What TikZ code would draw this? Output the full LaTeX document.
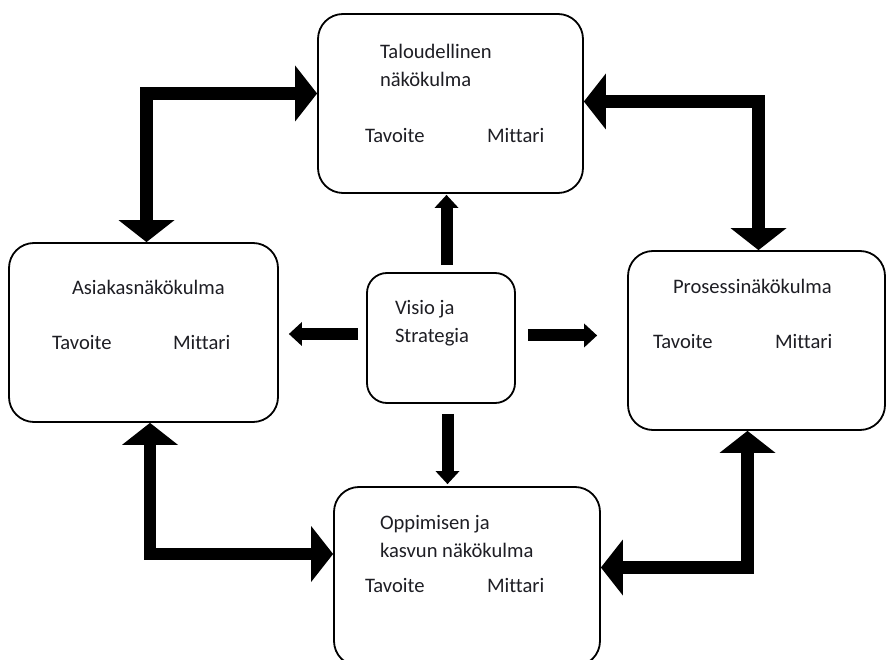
\documentclass[tikz,border=0pt]{standalone}
\usepackage{fontspec}
\setmainfont{Carlito}[Ligatures=NoCommon]
\usetikzlibrary{arrows.meta}
\definecolor{inkgray}{RGB}{30,30,36}
\tikzset{
  box/.style={draw=black, line width=1.8pt, rounded corners=25pt, fill=white, inner sep=0pt},
  smallbox/.style={box, rounded corners=20pt},
  lbl/.style={anchor=base west, inner sep=0pt, outer sep=0pt, text=inkgray,
    font=\fontsize{20.6pt}{28pt}\selectfont},
  bigarr/.style={line width=12.5pt, line cap=butt, line join=miter,
    {Triangle[length=22pt,width=56pt,line width=0pt]}-{Triangle[length=22pt,width=56pt,line width=0pt]}},
  smallarr/.style={line width=12pt, line cap=butt,
    -{Triangle[length=13pt,width=24pt,line width=0pt]}}
}
\begin{document}
\begin{tikzpicture}[x=1pt,y=-1pt]
\useasboundingbox (0,0) rectangle (887,660);

% perspective boxes
\node[box, minimum width=265pt, minimum height=179pt] (tal) at (450.5,103.5) {};
\node[box, minimum width=269pt, minimum height=179pt] (asi) at (143.5,332.5) {};
\node[box, minimum width=257pt, minimum height=179pt] (pro) at (756.5,340.5) {};
\node[box, minimum width=266pt, minimum height=179pt] (opp) at (467,576.5) {};
\node[smallbox, minimum width=148pt, minimum height=130pt] (vis) at (441,338) {};

% texts
\node[lbl] (tal1) at (380,59) {Taloudellinen};
\node[lbl] (tal2) at (380,87) {näkökulma};
\node[lbl] (talT) at (365,143) {Tavoite};
\node[lbl] (talM) at (487,143) {Mittari};

\node[lbl] (asi1) at (72,295) {Asiakasnäkökulma};
\node[lbl] (asiT) at (52,350) {Tavoite};
\node[lbl] (asiM) at (173,350) {Mittari};

\node[lbl] (pro1) at (673,294) {Prosessinäkökulma};
\node[lbl] (proT) at (653,349) {Tavoite};
\node[lbl] (proM) at (775,349) {Mittari};

\node[lbl] (opp1) at (380,529) {Oppimisen ja};
\node[lbl] (opp2) at (380,557) {kasvun näkökulma};
\node[lbl] (oppT) at (365,592) {Tavoite};
\node[lbl] (oppM) at (487,592) {Mittari};

\node[lbl] (vis1) at (395,315) {Visio ja};
\node[lbl] (vis2) at (395,343) {Strategia};

% two-way links between neighbouring perspectives
\draw[bigarr] (tal.west |- 0,93.5) -| (asi.north -| 146.5,0);
\draw[bigarr] (tal.east |- 0,101.5) -| (pro.north -| 758.5,0);
\draw[bigarr] (asi.south -| 150,0) |- (opp.west |- 0,554);
\draw[bigarr] (pro.south -| 747.5,0) |- (opp.east |- 0,567.5);

% vision and strategy feeding every perspective
\draw[smallarr, shorten <=7pt, shorten >=1pt] (vis.north -| 446.5,0) -- (tal.south -| 446.5,0);
\draw[smallarr, shorten <=8pt, shorten >=10pt] (vis.west |- 0,334) -- (asi.east |- 0,334);
\draw[smallarr, shorten <=12pt, shorten >=30pt] (vis.east |- 0,335.5) -- (pro.west |- 0,335.5);
\draw[smallarr, shorten <=10pt, shorten >=2pt] (vis.south -| 447.5,0) -- (opp.north -| 447.5,0);
\end{tikzpicture}
\end{document}
